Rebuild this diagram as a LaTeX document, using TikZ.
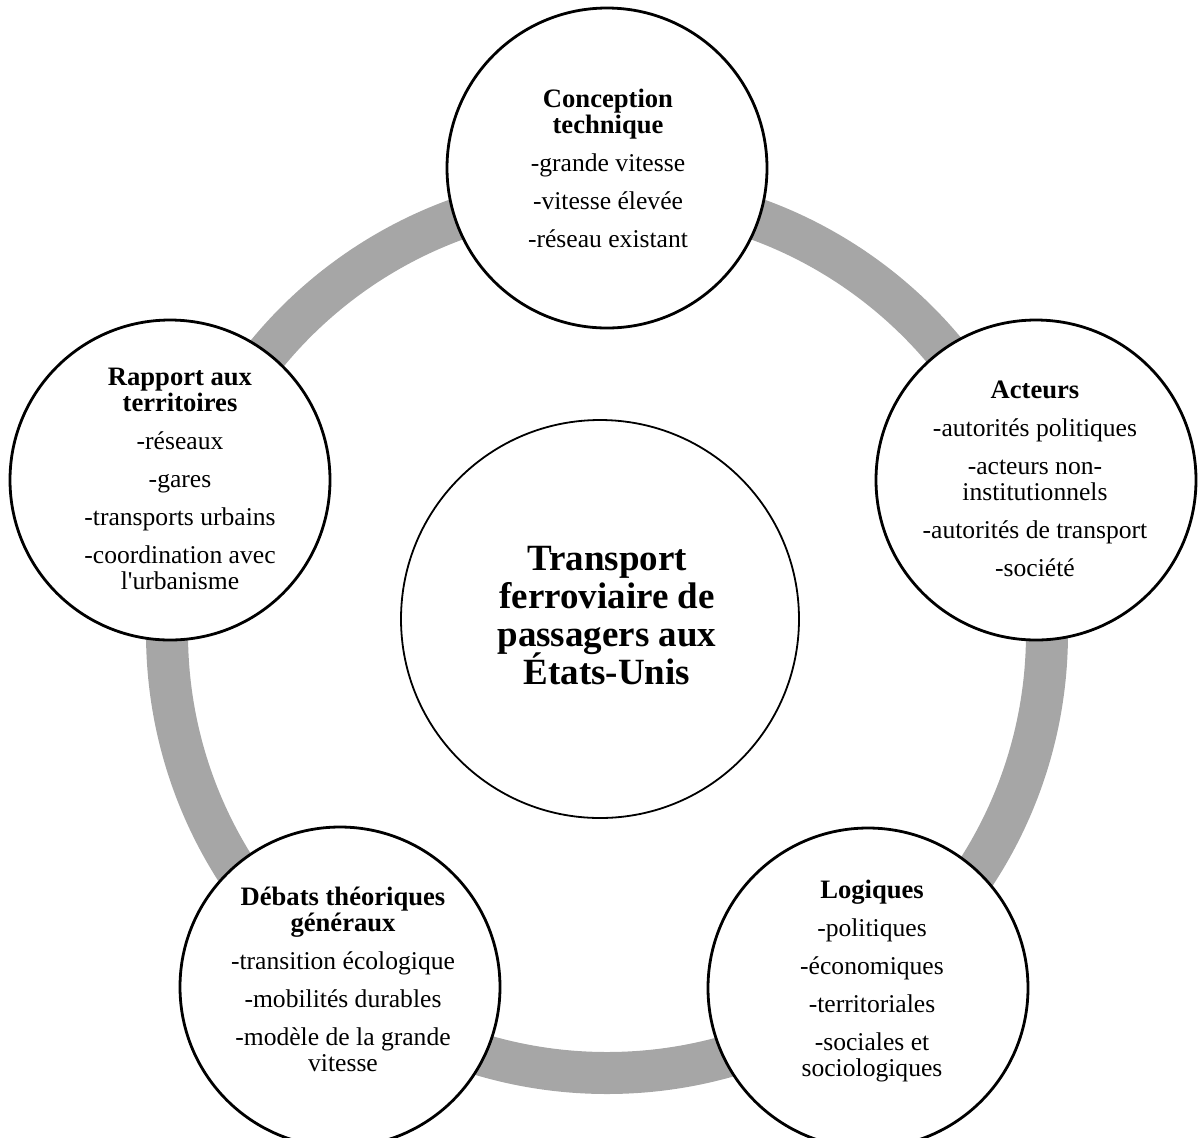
\documentclass[tikz,border=0pt]{standalone}
\usepackage{fontspec}
\setmainfont{Liberation Serif}
\newfontfamily\rawserif{Liberation Serif}
\definecolor{ringgray}{HTML}{A6A6A6}
\tikzset{
  sat/.style={circle, draw=black, line width=1.4pt, fill=white, minimum size=160pt, inner sep=0pt},
  hub/.style={circle, draw=black, line width=0.9pt, fill=white, minimum size=199pt, inner sep=0pt},
  txt/.style={anchor=base, inner sep=0pt, font=\fontsize{12.8}{13}\selectfont},
  hubtxt/.style={anchor=base, inner sep=0pt, font=\fontsize{18.5}{19}\selectfont\bfseries},
}
\newcommand\blk[1]{\begin{tabular}[t]{@{}c@{}}#1\end{tabular}}
\newcommand\ttl[1]{{\fontsize{13.3}{13}\selectfont\bfseries #1}}
\begin{document}
\begin{tikzpicture}[x=0.5pt,y=-0.5pt]
\useasboundingbox (0,0) rectangle (1200,1137);
\coordinate (ringc) at (607,633);
\draw[ringgray, line width=21pt] (ringc) circle[radius=220pt];
\node[hub] (hub) at (600,619) {};
\node[sat] (tech) at (607,168) {};
\node[sat] (act) at (1036,480) {};
\node[sat] (terr) at (170,480) {};
\node[sat] (deb) at (340,987) {};
\node[sat] (log) at (868,988) {};
\node[hubtxt] (hubt) at (607,570) {\blk{Transport\\ferroviaire de\\passagers aux\\\smash{É}tats-Unis}};
\node[txt] (techt) at (608,107) {\blk{\ttl{Conception}\\ \ttl{technique}\\[6pt] -grande vitesse\\[6pt] -vitesse élevée\\[6pt] -réseau existant}};
\node[txt] (actt) at (1035,398) {\blk{\ttl{Acteurs}\\[6pt] -autorités politiques\\[6pt] -acteurs non-\\ institutionnels\\[6pt] -autorités de transport\\[6pt] -société}};
\node[txt] (terrt) at (180,385) {\blk{\ttl{Rapport aux}\\ \ttl{territoires}\\[6pt] -réseaux\\[6pt] -gares\\[6pt] -transports urbains\\[6pt] -coordination avec\\ l{\rawserif'}urbanisme}};
\node[txt] (debt) at (343,905) {\blk{\ttl{Débats théoriques}\\ \ttl{généraux}\\[6pt] -transition écologique\\[6pt] -mobilités durables\\[6pt] -modèle de la grande\\ vitesse}};
\node[txt] (logt) at (872,898) {\blk{\ttl{Logiques}\\[6pt] -politiques\\[6pt] -économiques\\[6pt] -territoriales\\[6pt] -sociales et\\ sociologiques}};
\end{tikzpicture}
\end{document}
